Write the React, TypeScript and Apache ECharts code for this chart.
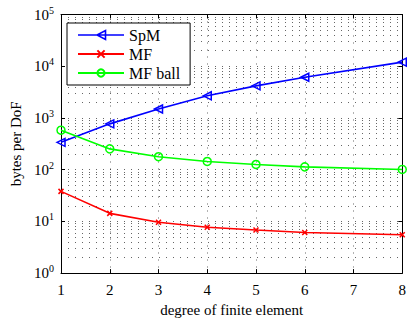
import React, { useEffect, useRef } from "react";
import * as echarts from "echarts";

const xValues = [1, 2, 3, 4, 5, 6, 8];
const spmValues = [337, 768, 1490, 2680, 4170, 6110, 12000];
const mfValues = [38, 14.3, 9.6, 7.7, 6.8, 6.1, 5.5];
const mfBallValues = [580, 252, 178, 144, 126, 113, 101];
const seriesNames = ["SpM", "MF", "MF ball"];
const minorGridValues: number[] = [];
for (let e = 0; e < 5; e++) {
  for (let m = 2; m <= 9; m++) minorGridValues.push(m * Math.pow(10, e));
}

const FONT = "Liberation Serif";
const LEFT_TRIANGLE = "path://M0 5L9 0L9 10Z";
const CROSS = "path://M0 0L10 10M10 0L0 10";
const SPM_LEGEND_ICON = "path://M0 5H46M19 5L27.5 0.5L27.5 9.5Z";

export default function App() {
  const ref = useRef<HTMLDivElement>(null);
  useEffect(() => {
    if (!ref.current) return;
    const chart = echarts.init(ref.current, null, { renderer: "svg" });
    const dotted = { color: "rgba(0,0,0,0.6)", width: 1, type: [1, 6] as any };
    const pair = (ys: number[]) => xValues.map((x, i) => [x, ys[i]]);
    chart.setOption({
      animation: false,
      backgroundColor: "#fff",
      textStyle: { fontFamily: FONT },
      grid: { left: 60, right: 1.5, top: 14.5, bottom: 46.5, containLabel: false },
      legend: {
        data: [
          {
            name: seriesNames[0],
            icon: SPM_LEGEND_ICON,
            itemStyle: { color: "rgba(255,255,255,0)", borderColor: "#0000ff", borderWidth: 1.6 },
          },
          seriesNames[1],
          seriesNames[2],
        ],
        orient: "vertical",
        left: 67,
        top: 23,
        z: 10,
        backgroundColor: "#fff",
        borderColor: "#000",
        borderWidth: 1,
        borderRadius: 0,
        padding: [4, 10, 4, 10],
        itemWidth: 46,
        itemHeight: 9,
        itemGap: 3,
        textStyle: { fontFamily: FONT, fontSize: 16, color: "#000" },
      },
      xAxis: [
        {
          type: "value",
          min: 1,
          max: 8,
          interval: 1,
          name: "degree of finite element",
          nameLocation: "middle",
          nameGap: 17,
          nameTextStyle: { fontFamily: FONT, fontSize: 15, color: "#000" },
          axisLine: { show: true, lineStyle: { color: "#000", width: 1 } },
          axisTick: { show: true, inside: true, length: 4, lineStyle: { color: "#000" } },
          axisLabel: { fontFamily: FONT, fontSize: 15, color: "#000", margin: 9 },
          splitLine: { show: true, lineStyle: dotted },
        },
        {
          type: "value",
          position: "top",
          min: 1,
          max: 8,
          interval: 1,
          axisLine: { show: true, onZero: false, lineStyle: { color: "#000", width: 1 } },
          axisTick: { show: true, inside: true, length: 4, lineStyle: { color: "#000" } },
          axisLabel: { show: false },
          splitLine: { show: false },
        },
      ],
      yAxis: [
        {
          type: "log",
          logBase: 10,
          min: 1,
          max: 100000,
          name: "bytes per DoF",
          nameLocation: "middle",
          nameGap: 38,
          nameTextStyle: { fontFamily: FONT, fontSize: 15, color: "#000" },
          axisLine: { show: true, lineStyle: { color: "#000", width: 1 } },
          axisTick: { show: true, inside: true, length: 4, lineStyle: { color: "#000" } },
          axisLabel: {
            fontFamily: FONT,
            color: "#000",
            margin: 7,
            formatter: (v: number) => `{b|10}{s|${Math.round(Math.log10(v))}}`,
            rich: {
              b: { fontFamily: FONT, fontSize: 15, color: "#000" },
              s: { fontFamily: FONT, fontSize: 10, color: "#000", padding: [0, 0, 9, 0] },
            },
          },
          splitLine: { show: true, lineStyle: dotted },
        },
        {
          type: "log",
          logBase: 10,
          min: 1,
          max: 100000,
          position: "right",
          axisLine: { show: true, onZero: false, lineStyle: { color: "#000", width: 1 } },
          axisTick: { show: true, inside: true, length: 4, lineStyle: { color: "#000" } },
          axisLabel: { show: false },
          splitLine: { show: false },
        },
      ],
      series: [
        {
          name: "grid-minor",
          type: "line",
          data: [],
          silent: true,
          z: 1,
          markLine: {
            silent: true,
            symbol: ["none", "none"],
            label: { show: false },
            lineStyle: dotted,
            data: minorGridValues.map((v) => ({ yAxis: v })),
          },
        },
        {
          name: "SpM",
          type: "line",
          data: pair(spmValues),
          symbol: LEFT_TRIANGLE,
          symbolSize: 8,
          z: 5,
          lineStyle: { color: "#0000ff", width: 1.6 },
          itemStyle: { color: "rgba(255,255,255,0)", borderColor: "#0000ff", borderWidth: 1.5 },
        },
        {
          name: "MF",
          type: "line",
          data: pair(mfValues),
          symbol: CROSS,
          symbolSize: 5,
          z: 5,
          lineStyle: { color: "#ff0000", width: 1.6 },
          itemStyle: { color: "#ff0000", borderColor: "#ff0000", borderWidth: 1.5 },
        },
        {
          name: "MF ball",
          type: "line",
          data: pair(mfBallValues),
          symbol: "circle",
          symbolSize: 8,
          z: 5,
          lineStyle: { color: "#00ff00", width: 1.6 },
          itemStyle: { color: "rgba(255,255,255,0)", borderColor: "#00ff00", borderWidth: 1.5 },
        },
      ],
    });
    return () => chart.dispose();
  }, []);
  return (
    <div
      ref={ref}
      style={{ position: "fixed", left: 0, top: 0, width: 409, height: 322, background: "#fff" }}
    />
  );
}
